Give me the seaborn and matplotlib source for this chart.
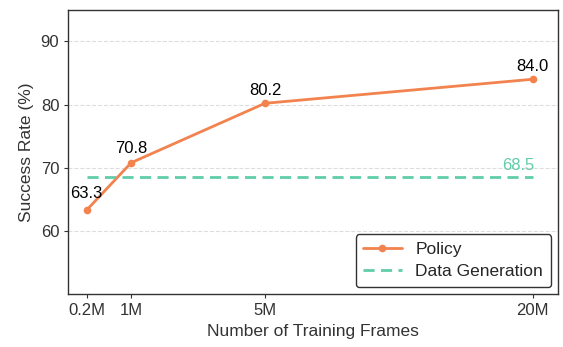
import numpy as np
import pandas as pd
import matplotlib
matplotlib.use('Agg')
import matplotlib.pyplot as plt
import seaborn as sns

# data
frame_labels = ['0.2M', '1M', '5M', '20M']
frame_pos = [0, 1, 4, 10]   # spacing used on the x axis
policy_rate = [63.3, 70.8, 80.2, 84.0]
datagen_rate = 68.5

sns.set_style('ticks')
plt.rcParams['font.family'] = ['Liberation Sans', 'DejaVu Sans']

c_policy = '#F2834F'
c_gen = '#5FCDA7'

df = pd.DataFrame({'x': frame_pos, 'policy': policy_rate,
                   'gen': [datagen_rate] * len(frame_pos)})

fig = plt.figure(figsize=(5.63, 3.47), dpi=100)
ax = fig.add_axes([0.1213, 0.152, 0.8697, 0.82])

sns.lineplot(data=df, x='x', y='policy', ax=ax, color=c_policy, lw=2,
             marker='o', markersize=5.5, markeredgewidth=0, label='Policy')
sns.lineplot(data=df, x='x', y='gen', ax=ax, color=c_gen, lw=2,
             dashes=False, label='Data Generation')
ax.lines[1].set_dashes((4, 2.3))

offs = [12, 10, 9.5, 9]
for x, y, dy in zip(frame_pos, policy_rate, offs):
    ax.annotate(f'{y:.1f}', (x, y), xytext=(0, dy), textcoords='offset points',
                ha='center', va='center', fontsize=12, color='black')
ax.annotate(f'{datagen_rate:.1f}', (frame_pos[-1], datagen_rate), xytext=(1, 8.8),
            textcoords='offset points', ha='right', va='center', fontsize=12,
            color=c_gen)

ax.set_xlim(-0.41, 10.57)
ax.set_ylim(50, 95)
ax.set_xticks(frame_pos)
ax.set_xticklabels(frame_labels)
ax.set_yticks([60, 70, 80, 90])
ax.yaxis.grid(True, ls='--', color='#dddddd', lw=0.8)
ax.set_axisbelow(True)
ax.tick_params(labelsize=12, colors='#333333', length=3)
for s in ax.spines.values():
    s.set_color('#333333')
    s.set_linewidth(1)

ax.set_xlabel('Number of Training Frames', fontsize=12.5, color='#333333', labelpad=4)
ax.set_ylabel('Success Rate (%)', fontsize=12.5, color='#333333', labelpad=5)

leg = ax.legend(loc='lower right', fontsize=12.5, frameon=True, handlelength=2.2,
                borderaxespad=0.4, borderpad=0.45, labelspacing=0.4)
leg.get_frame().set_edgecolor('#333333')
leg.get_frame().set_linewidth(1)
leg.get_frame().set_alpha(1)

fig.savefig('out.png', dpi=100)
